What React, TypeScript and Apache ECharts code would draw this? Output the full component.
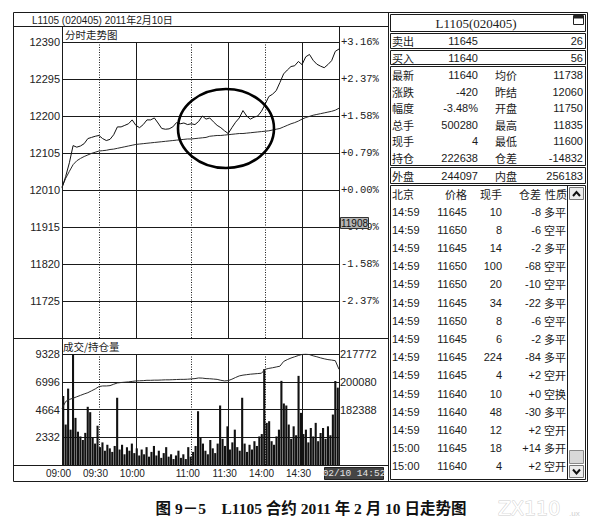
import React, { useEffect, useRef } from "react";
import * as echarts from "echarts";

// ---------- data ----------
const BASE_PRICE = 12010;
const TIME_TICKS = ["09:00", "09:30", "10:00", "11:00", "11:30", "14:00", "14:30"];
const SOLID_TICKS = ["10:00", "11:30", "14:30"];
const DOTTED_TICKS = ["09:30", "11:00", "14:00"];

const PRICE = [
  12015, 12045, 12080, 12124, 12120, 12123, 12129, 12142, 12145, 12148,
  12150, 12142, 12137, 12140, 12152, 12172, 12172, 12176, 12180, 12190,
  12176, 12170, 12178, 12190, 12190, 12195, 12182, 12168, 12166, 12167,
  12172, 12183, 12180, 12182, 12178, 12180, 12178, 12186, 12200, 12192,
  12195, 12185, 12176, 12170, 12162, 12155, 12170, 12184, 12195, 12214,
  12200, 12192, 12197, 12200, 12212, 12230, 12250, 12256, 12265, 12286,
  12308, 12318, 12327, 12329, 12340, 12332, 12352, 12358, 12343, 12333,
  12328, 12324, 12332, 12342, 12366, 12372,
];

const AVG_PRICE = [
  12018, 12040, 12058, 12075, 12085, 12091, 12096, 12100, 12104, 12107,
  12110, 12111, 12112, 12114, 12115, 12117, 12119, 12121, 12123, 12125,
  12127, 12128, 12129, 12130, 12131, 12132, 12133, 12134, 12135, 12136,
  12137, 12138, 12139, 12140, 12141, 12141, 12142, 12143, 12144, 12145,
  12148, 12149, 12150, 12150, 12151, 12152, 12153, 12154, 12155, 12155,
  12156, 12157, 12158, 12159, 12160, 12161, 12162, 12164, 12166, 12168,
  12172, 12176, 12180, 12183, 12187, 12192, 12196, 12199, 12202, 12204,
  12206, 12208, 12210, 12212, 12215, 12220,
];

const OPEN_INTEREST = [
  183000, 187500, 188800, 189600, 190500, 191400, 192300, 193100, 194300, 195500,
  197000, 197400, 197400, 197600, 198500, 199300, 199600, 199800, 200000, 200300,
  200600, 200700, 200800, 201000, 201000, 201100, 201100, 201200, 201300, 201300,
  201400, 201500, 201600, 201600, 201700, 201900, 202100, 202500, 202400, 202100,
  202000, 201800, 201600, 201000, 200600, 200800, 201700, 202800, 203800, 204300,
  204600, 204900, 205100, 205300, 205500, 208000, 208600, 209000, 209500, 210000,
  213000, 214200, 215200, 216000, 216800, 217500, 217700, 217400, 216600, 216000,
  215300, 214700, 214200, 213900, 213500, 208000,
];

const VOLUME = [
  5800, 3400, 6420, 2970, 9300, 3960, 2800, 2400, 2100, 2700,
  4890, 4440, 2300, 1800, 3300, 1500, 1900, 1200, 1700, 1400,
  1100, 1600, 5650, 1300, 1700, 900, 1500, 1200, 1800, 1000,
  1400, 800, 1300, 900, 1500, 700, 1100, 1600, 800, 1200,
  600, 1000, 1500, 700, 900, 500, 800, 1200, 600, 900,
  500, 1500, 700, 1100, 1600, 4520, 2300, 1800, 1200, 900,
  2100, 1400, 1000, 1800, 5000, 2200, 1600, 3250, 1300, 1900,
  2970, 1500, 1200, 5650, 1800, 1100, 1700, 1300, 2000, 1600,
  2400, 2600, 8060, 3540, 3680, 2000, 1700, 2400, 2970, 7070,
  5170, 5000, 3400, 2200, 3250, 2500, 7490, 4380, 2600, 2970,
  1900, 3110, 2400, 3540, 2000, 2690, 3110, 2200, 3250, 2500,
  4240, 7060, 6500,
];

const BID_ASK_LABELS = ["卖出", "买入"];
const BID_ASK_PRICES = ["11645", "11640"];
const BID_ASK_SIZES = ["26", "56"];

const QUOTE_LEFT_LABELS = ["最新", "涨跌", "幅度", "总手", "现手", "持仓"];
const QUOTE_LEFT_VALUES = ["11640", "-420", "-3.48%", "500280", "4", "222638"];
const QUOTE_RIGHT_LABELS = ["均价", "昨结", "开盘", "最高", "最低", "仓差"];
const QUOTE_RIGHT_VALUES = ["11738", "12060", "11750", "11835", "11600", "-14832"];
const OUTER_INNER = ["外盘", "244097", "内盘", "256183"];

const TRADE_HEADERS = ["北京", "价格", "现手", "仓差", "性质"];
const TRADE_TIMES = ["14:59", "14:59", "14:59", "14:59", "14:59", "14:59", "14:59", "14:59", "14:59", "14:59", "14:59", "14:59", "14:59", "15:00", "15:00"];
const TRADE_PRICES = ["11645", "11650", "11645", "11650", "11650", "11645", "11650", "11645", "11645", "11645", "11640", "11640", "11640", "11645", "11640"];
const TRADE_SIZES = ["10", "8", "14", "100", "20", "34", "8", "6", "224", "4", "10", "48", "12", "18", "4"];
const TRADE_OI_DIFF = ["-8", "-6", "-2", "-68", "-10", "-22", "-6", "-2", "-84", "+2", "+0", "-30", "+2", "+14", "+2"];
const TRADE_TYPES = ["多平", "空平", "多平", "空平", "空平", "多平", "空平", "多平", "多平", "空开", "空换", "多平", "空开", "多开", "空开"];

// ---------- helpers ----------
function buildTimes(): string[] {
  const out: string[] = [];
  const fmt = (m: number) =>
    `${String(Math.floor(m / 60)).padStart(2, "0")}:${String(m % 60).padStart(2, "0")}`;
  for (let i = 0; i < PRICE.length; i++) {
    let m: number;
    if (i <= 25) m = 540 + 3 * i;
    else if (i <= 45) m = 630 + 3 * (i - 25);
    else m = 810 + 3 * (i - 45);
    out.push(fmt(m));
  }
  return out;
}
const CATEGORIES = buildTimes();

const SANS = '"Liberation Sans", Arial, "Noto Sans CJK SC", sans-serif';
const MONO = '"Liberation Mono", "DejaVu Sans Mono", monospace';
const CJK = '"Noto Sans CJK SC", "Liberation Sans", sans-serif';
const INK = "#1a1a1a";

function buildGraphic(): any[] {
  const g: any[] = [];
  const line = (x1: number, y1: number, x2: number, y2: number, extra: any = {}) =>
    g.push({ type: "line", silent: true, z: 50, shape: { x1, y1, x2, y2 }, style: { stroke: INK, lineWidth: 1, ...extra } });
  const rect = (x: number, y: number, w: number, h: number, style: any, z = 50) =>
    g.push({ type: "rect", silent: true, z, shape: { x, y, width: w, height: h }, style });
  const text = (x: number, y: number, t: string, font: string, align = "left", fill = INK, z = 60) =>
    g.push({
      type: "text", silent: true, z, x, y,
      style: { text: t, font, fill, align, textAlign: align, verticalAlign: "middle", textVerticalAlign: "middle" },
    });

  // outer frame + left panel structure
  rect(13.5, 12.5, 574, 469, { fill: "none", stroke: INK, lineWidth: 1 });
  line(388.5, 12.5, 388.5, 481.5);
  line(13.5, 26.5, 388.5, 26.5);
  line(62.5, 26.5, 62.5, 465.5);
  line(339.5, 26.5, 339.5, 465.5);
  line(13.5, 338.5, 388.5, 338.5);
  line(13.5, 465.5, 388.5, 465.5);

  text(32, 20, "L1105 (020405) 2011年2月10日", `10px ${SANS}`);
  text(65, 34.5, "分时走势图", `10.5px ${CJK}`);
  text(63, 346.5, "成交/持仓量", `10.5px ${CJK}`);

  // cursor boxes
  rect(340.5, 217.5, 28, 11, { fill: "#b4b4b4", stroke: "#333", lineWidth: 1 }, 70);
  text(354.5, 223, "11908", `10px ${SANS}`, "center", "#111", 71);
  rect(324.5, 467.5, 59, 12, { fill: "#454545", stroke: "#222", lineWidth: 1 }, 70);
  text(354, 473.5, "02/10 14:52", `9.5px ${MONO}`, "center", "#e6e6e6", 71);

  // annotation ellipse
  g.push({
    type: "ellipse", silent: true, z: 80,
    shape: { cx: 226, cy: 128.5, rx: 48, ry: 39.5 },
    style: { fill: "none", stroke: "#000", lineWidth: 2.6 },
  });

  // right panel boxes
  const bx = 390.5, bw = 195;
  const boxStyle = { fill: "none", stroke: INK, lineWidth: 1 };
  rect(bx, 14.5, bw, 17, boxStyle);
  rect(bx, 33.5, bw, 15, boxStyle);
  rect(bx, 50.5, bw, 14, boxStyle);
  rect(bx, 66.5, bw, 99, boxStyle);
  rect(bx, 167.5, bw, 16, boxStyle);
  rect(bx, 185.5, bw, 294, boxStyle);

  text(476, 23, "L1105(020405)", `13px "Liberation Serif", serif`, "center", "#222");
  // window icon
  rect(573.5, 15.5, 10, 9, { fill: "#fff", stroke: "#222", lineWidth: 1 }, 55);
  rect(574, 16, 9, 2.5, { fill: "#222" }, 56);

  const F = `11px ${SANS}`;
  const FC = `11px ${CJK}`;
  const bidY = [41, 57.5];
  BID_ASK_LABELS.forEach((lab, k) => {
    text(392, bidY[k], lab, FC);
    text(478, bidY[k], BID_ASK_PRICES[k], F, "right");
    text(583, bidY[k], BID_ASK_SIZES[k], F, "right");
  });
  QUOTE_LEFT_LABELS.forEach((lab, k) => {
    const y = 75 + 16.6 * k;
    text(392, y, lab, FC);
    text(478, y, QUOTE_LEFT_VALUES[k], F, "right");
    text(495, y, QUOTE_RIGHT_LABELS[k], FC);
    text(583, y, QUOTE_RIGHT_VALUES[k], F, "right");
  });
  text(392, 175.5, OUTER_INNER[0], FC);
  text(478, 175.5, OUTER_INNER[1], F, "right");
  text(495, 175.5, OUTER_INNER[2], FC);
  text(583, 175.5, OUTER_INNER[3], F, "right");

  // trade list
  text(392, 193.5, TRADE_HEADERS[0], FC);
  text(467, 193.5, TRADE_HEADERS[1], FC, "right");
  text(502, 193.5, TRADE_HEADERS[2], FC, "right");
  text(541, 193.5, TRADE_HEADERS[3], FC, "right");
  text(545, 193.5, TRADE_HEADERS[4], FC);
  TRADE_TIMES.forEach((t, k) => {
    const y = 211.5 + 18.2 * k;
    text(392, y, t, F);
    text(467, y, TRADE_PRICES[k], F, "right");
    text(502, y, TRADE_SIZES[k], F, "right");
    text(541, y, TRADE_OI_DIFF[k], F, "right");
    text(544, y, TRADE_TYPES[k], FC);
  });

  // scroll bar
  line(567.5, 185.5, 567.5, 479.5);
  rect(569.5, 187.5, 14, 12, { fill: "#ececec", stroke: "#777", lineWidth: 1 }, 55);
  g.push({ type: "polyline", silent: true, z: 56, shape: { points: [[573, 196], [576.5, 192], [580, 196]] }, style: { fill: "none", stroke: "#111", lineWidth: 2 } });
  rect(569.5, 450.5, 14, 13, { fill: "#d8d8d8", stroke: "#888", lineWidth: 1 }, 55);
  rect(569.5, 465.5, 14, 12, { fill: "#ececec", stroke: "#777", lineWidth: 1 }, 55);
  g.push({ type: "polyline", silent: true, z: 56, shape: { points: [[573, 469.5], [576.5, 473.5], [580, 469.5]] }, style: { fill: "none", stroke: "#111", lineWidth: 2 } });

  // caption + watermark
  text(311, 508, "图 9－5    L1105 合约 2011 年 2 月 10 日走势图", `bold 15.5px "Liberation Serif", "Noto Sans CJK SC", serif`, "center", "#111");
  g.push({
    type: "text", silent: true, z: 40, x: 498, y: 508,
    style: { text: "ZX110", font: `19px "DejaVu Sans", sans-serif`, fill: "#ffffff", stroke: "#cfcfcf", lineWidth: 1, align: "left", textAlign: "left", verticalAlign: "middle", textVerticalAlign: "middle" },
  });
  text(569, 513, ".ux", `8px ${SANS}`, "left", "#cfcfcf", 40);

  return g;
}

function catAxis(gridIndex: number, ticks: string[], dotted: boolean, withLabels: boolean): any {
  return {
    gridIndex,
    type: "category",
    data: CATEGORIES,
    boundaryGap: false,
    axisLine: { show: false },
    axisTick: { show: false },
    axisLabel: withLabels
      ? {
          show: true,
          interval: (_i: number, v: string) => TIME_TICKS.includes(v),
          fontFamily: SANS,
          fontSize: 10,
          color: "#222",
          margin: 3,
          padding: [0, 7, 0, 0],
        }
      : { show: false },
    splitLine: {
      show: true,
      interval: (_i: number, v: string) => ticks.includes(v),
      lineStyle: { color: INK, width: 1, type: dotted ? [1, 1.5] : "solid" },
    },
  };
}

export default function App() {
  const ref = useRef<HTMLDivElement>(null);
  useEffect(() => {
    document.body.style.margin = "0";
    if (!ref.current) return;
    const chart = echarts.init(ref.current, undefined, { renderer: "svg" });
    const option: any = {
      animation: false,
      backgroundColor: "#ffffff",
      grid: [
        { left: 62, top: 42, width: 277, height: 296 },
        { left: 62, top: 354, width: 277, height: 111 },
      ],
      xAxis: [
        catAxis(0, SOLID_TICKS, false, false),
        catAxis(0, DOTTED_TICKS, true, false),
        catAxis(1, SOLID_TICKS, false, true),
        catAxis(1, DOTTED_TICKS, true, false),
        {
          gridIndex: 1,
          type: "category",
          data: VOLUME.map((_, j) => `v${j}`),
          boundaryGap: true,
          show: false,
        },
      ],
      yAxis: [
        {
          gridIndex: 0, type: "value", position: "left",
          min: 11630, max: 12390, interval: 95,
          axisLine: { show: false }, axisTick: { show: false },
          splitLine: { show: true, lineStyle: { color: INK, width: 1 } },
          axisLabel: {
            fontFamily: SANS, fontSize: 11, color: "#222", margin: 2,
            showMinLabel: true, showMaxLabel: true,
            formatter: (v: number) => (Math.round(v) <= 11630 ? "" : String(Math.round(v))),
          },
        },
        {
          gridIndex: 0, type: "value", position: "right",
          min: 11630, max: 12390, interval: 95,
          axisLine: { show: false }, axisTick: { show: false },
          splitLine: { show: false },
          axisLabel: {
            fontFamily: MONO, fontSize: 10.5, color: "#222", margin: 2,
            showMinLabel: true, showMaxLabel: true,
            formatter: (v: number) => {
              const r = Math.round(v);
              if (r <= 11630) return "";
              const p = ((r - BASE_PRICE) / BASE_PRICE) * 100;
              return (p < 0 ? "-" : "+") + Math.abs(p).toFixed(2) + "%";
            },
          },
        },
        {
          gridIndex: 1, type: "value", position: "left",
          min: 0, max: 9328, interval: 2332,
          axisLine: { show: false }, axisTick: { show: false },
          splitLine: { show: true, lineStyle: { color: INK, width: 1 } },
          axisLabel: {
            fontFamily: SANS, fontSize: 11, color: "#222", margin: 2,
            showMaxLabel: true,
            formatter: (v: number) => (Math.round(v) <= 0 ? "" : String(Math.round(v))),
          },
        },
        {
          gridIndex: 1, type: "value", position: "right",
          min: 147004, max: 217772, interval: 17692,
          axisLine: { show: false }, axisTick: { show: false },
          splitLine: { show: false },
          axisLabel: {
            fontFamily: SANS, fontSize: 11, color: "#222", margin: 1,
            showMaxLabel: true,
            formatter: (v: number) => (Math.round(v) < 182000 ? "" : String(Math.round(v))),
          },
        },
      ],
      series: [
        {
          name: "价格", type: "line", xAxisIndex: 0, yAxisIndex: 0,
          data: PRICE, symbol: "none", z: 6,
          lineStyle: { color: "#111", width: 1 },
        },
        {
          name: "均价", type: "line", xAxisIndex: 0, yAxisIndex: 0,
          data: AVG_PRICE, symbol: "none", z: 5,
          lineStyle: { color: "#2a2a2a", width: 1 },
        },
        {
          name: "成交", type: "bar", xAxisIndex: 4, yAxisIndex: 2,
          data: VOLUME, barWidth: 2.1, z: 4,
          itemStyle: { color: "#111" },
        },
        {
          name: "持仓", type: "line", xAxisIndex: 2, yAxisIndex: 3,
          data: OPEN_INTEREST, symbol: "none", z: 6,
          lineStyle: { color: "#2a2a2a", width: 1 },
        },
      ],
      graphic: { elements: buildGraphic() },
    };
    chart.setOption(option);
    return () => chart.dispose();
  }, []);
  return <div ref={ref} style={{ width: 592, height: 527, background: "#fff" }} />;
}
